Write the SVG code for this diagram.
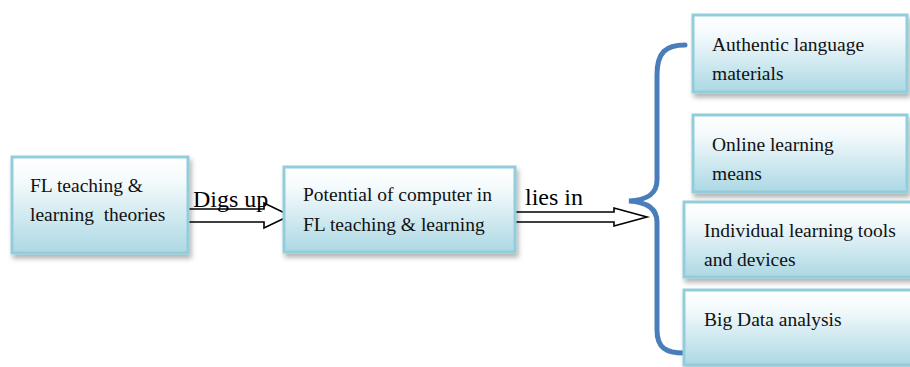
<svg xmlns="http://www.w3.org/2000/svg" width="910" height="367" viewBox="0 0 910 367">
<defs>
<linearGradient id="g" x1="0" y1="0" x2="0" y2="1">
<stop offset="0" stop-color="#ffffff"/>
<stop offset="0.25" stop-color="#f4fafc"/>
<stop offset="1" stop-color="#acd8e4"/>
</linearGradient>
<filter id="sh" x="-10%" y="-10%" width="125%" height="135%">
<feDropShadow dx="2" dy="4" stdDeviation="2.5" flood-color="#000" flood-opacity="0.3"/>
</filter>
<style>
.box{fill:url(#g);stroke:#92cddc;stroke-width:3;filter:url(#sh)}
.t{font-family:"Liberation Serif","Times New Roman",serif;font-size:19.5px;fill:#111}
.lbl{font-family:"Liberation Serif","Times New Roman",serif;font-size:24px;fill:#000}
.arr{fill:#fff;stroke:#000;stroke-width:1.6;stroke-linejoin:miter}
.brace{fill:none;stroke:#4a7ebb;stroke-width:5;stroke-linecap:round}
</style>
</defs>
<rect width="910" height="367" fill="#fff"/>
<g id="connectors">
<polygon class="arr" points="188,209 264,209 264,203 290,215.5 264,228 264,222 188,222"/>
<polygon class="arr" points="515,212 614,212 614,208 647,217 614,226 614,222 515,222"/>
<path class="brace" d="M685,45 C666,45 657,52 657,75 L657,180 C657,195 646,200 629,201 C646,202 657,208 657,222 L657,330 C657,348 666,353 684,353"/>
<text class="lbl" x="193" y="207">Digs up</text>
<text class="lbl" x="525" y="205">lies in</text>
</g>
<g id="node-theories">
<rect class="box" x="12" y="157" width="176" height="96"/>
<text class="t" x="30" y="192">FL teaching &amp;</text>
<text class="t" x="30" y="221" xml:space="preserve">learning  theories</text>
</g>
<g id="node-potential">
<rect class="box" x="284" y="167" width="231" height="85"/>
<text class="t" x="303" y="201">Potential of computer in</text>
<text class="t" x="303" y="231">FL teaching &amp; learning</text>
</g>
<g id="node-authentic">
<rect class="box" x="693" y="15" width="214" height="77"/>
<text class="t" x="712" y="51">Authentic language</text>
<text class="t" x="712" y="80">materials</text>
</g>
<g id="node-online">
<rect class="box" x="693" y="115" width="214" height="77"/>
<text class="t" x="712" y="151">Online learning</text>
<text class="t" x="712" y="180">means</text>
</g>
<g id="node-tools">
<rect class="box" x="684" y="202" width="228" height="75"/>
<text class="t" x="704" y="237">Individual learning tools</text>
<text class="t" x="704" y="266">and devices</text>
</g>
<g id="node-bigdata">
<rect class="box" x="684" y="290" width="228" height="75"/>
<text class="t" x="704" y="326">Big Data analysis</text>
</g>
</svg>
